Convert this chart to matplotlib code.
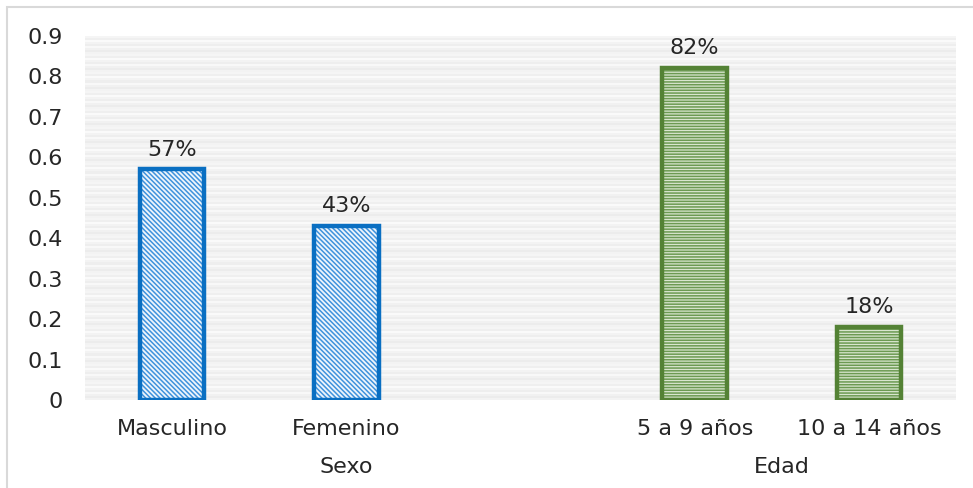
import numpy as np
import matplotlib
matplotlib.use("Agg")
import matplotlib.pyplot as plt
from matplotlib.patches import Rectangle

plt.rcParams['font.family'] = ['DejaVu Sans']

categories = ["Masculino", "Femenino", "5 a 9 años", "10 a 14 años"]
values = [0.57, 0.43, 0.82, 0.18]
labels = ["57%", "43%", "82%", "18%"]
groups = ["Sexo", "Edad"]
yticks = [0, 0.1, 0.2, 0.3, 0.4, 0.5, 0.6, 0.7, 0.8, 0.9]
ytick_labels = ["0", "0.1", "0.2", "0.3", "0.4", "0.5", "0.6", "0.7", "0.8", "0.9"]

positions = [0, 1, 3, 4]
group_pos = [1, 3.5]

FS = 16
TXT = "#262626"

fig = plt.figure(figsize=(9.73, 4.88), dpi=100)
ax = fig.add_axes([85 / 973, 1 - 400 / 488, (956 - 85) / 973, (400 - 36) / 488])

# Striped gray background
n = 180
pattern = np.array([0.955, 0.925, 0.945, 0.97, 0.93, 0.95, 0.98, 0.935, 0.96])
rows = np.resize(pattern, n)
tex = np.repeat(rows[:, None], 2, axis=1)
ax.imshow(tex, cmap="gray", vmin=0, vmax=1, aspect="auto",
          extent=(-0.5, 4.5, 0, 0.9), origin="lower", zorder=0,
          interpolation="nearest")

blue = "#0A6FC2"
green = "#548235"
edge = [blue, blue, green, green]
hatches = ["\\\\\\\\\\\\\\", "\\\\\\\\\\\\\\", "------", "------"]
faces = ["#eef5fc", "#eef5fc", "#d9e6cf", "#d9e6cf"]
hatch_col = ["#3f92dc", "#3f92dc", "#6c9a52", "#6c9a52"]

plt.rcParams['hatch.linewidth'] = 1.1
for p, v, ec, h, fc, hc in zip(positions, values, edge, hatches, faces, hatch_col):
    ax.bar(p, v, width=0.37, color=fc, edgecolor=hc, hatch=h, linewidth=0, zorder=2)
    ax.bar(p, v, width=0.37, facecolor="none", edgecolor=ec, linewidth=3.2, zorder=3)

for p, v, t in zip(positions, values, labels):
    ax.annotate(t, (p, v), xytext=(0, 10), textcoords="offset points",
                ha="center", va="baseline", fontsize=FS, color=TXT)

ax.set_xlim(-0.5, 4.5)
ax.set_ylim(0, 0.9)
ax.set_yticks(yticks)
ax.set_yticklabels(ytick_labels, fontsize=FS, color=TXT)
ax.set_xticks(positions)
ax.set_xticklabels(categories, fontsize=FS, color=TXT)
ax.tick_params(axis="y", length=0, pad=16)
ax.tick_params(axis="x", length=0, pad=13.5)
for s in ax.spines.values():
    s.set_visible(False)

for gp, g in zip(group_pos, groups):
    ax.annotate(g, (gp, 0), xycoords=("data", "axes fraction"), xytext=(0, -48),
                textcoords="offset points", ha="center", va="center",
                fontsize=FS, color=TXT)

# Outer frame of the figure
fig.patches.append(Rectangle((7 / 973, -0.01), 1.05, 1 - 7 / 488 + 0.01,
                             transform=fig.transFigure, fill=False,
                             edgecolor="#d9d9d9", linewidth=1.5))

fig.savefig("out.png", dpi=100)
